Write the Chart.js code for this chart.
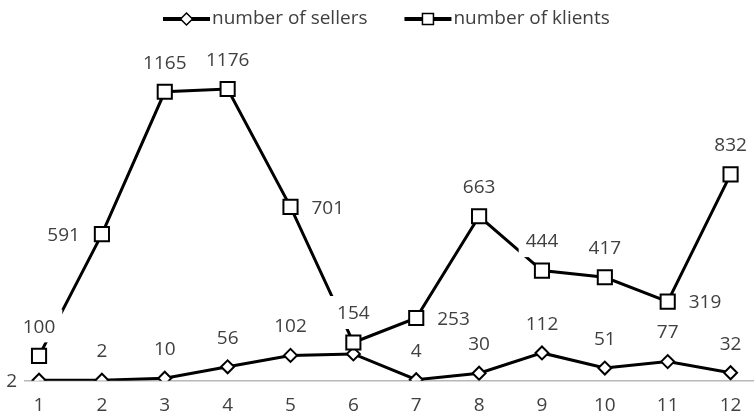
<!DOCTYPE html>
<html>
<head>
<meta charset="utf-8">
<script src="https://cdn.jsdelivr.net/npm/chart.js@4"></script>
<style>
  html, body { margin: 0; padding: 0; background: #fff; overflow: hidden; }
  #wrap { position: relative; width: 762px; height: 420px; }
</style>
</head>
<body>
<div id="wrap"><canvas id="marketChart" width="762" height="420"></canvas></div>
<script>
const months = ['1', '2', '3', '4', '5', '6', '7', '8', '9', '10', '11', '12'];
const sellers = [2, 2, 10, 56, 102, 108, 4, 30, 112, 51, 77, 32];
const klients = [100, 591, 1165, 1176, 701, 154, 253, 663, 444, 417, 319, 832];

// which side of the point each value label sits on (null = no label)
const sellerLabelSide = ['left', 'top', 'top', 'top', 'top', null, 'top', 'top', 'top', 'top', 'top', 'top'];
const klientLabelSide = ['top', 'left', 'top', 'top', 'right', 'top', 'right', 'top', 'top', 'top', 'right', 'top'];

const FONT = '19px "Open Sans"';
const TEXT = '#404040';

// value labels on white boxes, drawn over the lines
const valueLabels = {
  id: 'valueLabels',
  afterDatasetsDraw(chart) {
    const ctx = chart.ctx;
    ctx.save();
    ctx.font = FONT;
    const items = [];
    chart.data.datasets.forEach((ds, di) => {
      const meta = chart.getDatasetMeta(di);
      meta.data.forEach((pt, i) => {
        const side = ds.labelSide[i];
        if (!side) return;
        const text = String(ds.data[i]);
        const w = ctx.measureText(text).width;
        let cx = pt.x, cy = pt.y;
        if (side === 'top') cy -= 30;
        else if (side === 'left') cx -= 22 + w / 2;
        else cx += 21 + w / 2;
        items.push({ text, w, cx, cy });
      });
    });
    ctx.fillStyle = '#fff';
    items.forEach(it => ctx.fillRect(it.cx - it.w / 2 - 7, it.cy - 16.5, it.w + 14, 33));
    ctx.fillStyle = TEXT;
    ctx.textAlign = 'center';
    ctx.textBaseline = 'alphabetic';
    items.forEach(it => ctx.fillText(it.text, it.cx, it.cy + 6.8));
    ctx.restore();
  }
};

// legend: thick line with the marker in the middle, then the name
const lineLegend = {
  id: 'lineLegend',
  afterDraw(chart) {
    const ctx = chart.ctx;
    ctx.save();
    ctx.font = FONT;
    let x = 163;
    const y = 19;
    chart.data.datasets.forEach(ds => {
      ctx.strokeStyle = '#000';
      ctx.lineWidth = 4;
      ctx.beginPath();
      ctx.moveTo(x, y);
      ctx.lineTo(x + 47, y);
      ctx.stroke();

      const mx = x + 23.5;
      ctx.fillStyle = '#fff';
      ctx.lineWidth = 1.5;
      ctx.beginPath();
      if (ds.pointStyle === 'rectRot') {
        ctx.moveTo(mx - 6, y);
        ctx.lineTo(mx, y - 6);
        ctx.lineTo(mx + 6, y);
        ctx.lineTo(mx, y + 6);
        ctx.closePath();
      } else {
        ctx.rect(mx - 5.5, y - 5.5, 11, 11);
      }
      ctx.fill();
      ctx.stroke();

      ctx.fillStyle = TEXT;
      ctx.textAlign = 'left';
      ctx.textBaseline = 'alphabetic';
      ctx.fillText(ds.label, x + 49, y + 5);
      x += 49 + ctx.measureText(ds.label).width + 37;
    });
    ctx.restore();
  }
};

function render() {
  const ctx = document.getElementById('marketChart').getContext('2d');
  new Chart(ctx, {
    type: 'line',
    data: {
      labels: months,
      datasets: [
        {
          label: 'number of sellers',
          data: sellers,
          labelSide: sellerLabelSide,
          borderColor: '#000',
          borderWidth: 3,
          pointStyle: 'rectRot',
          pointRadius: 6.5,
          pointBorderWidth: 2,
          pointBorderColor: '#000',
          pointBackgroundColor: '#fff',
          tension: 0,
          order: 1
        },
        {
          label: 'number of klients',
          data: klients,
          labelSide: klientLabelSide,
          borderColor: '#000',
          borderWidth: 3,
          pointStyle: 'rect',
          pointRadius: 10,
          pointBorderWidth: 2,
          pointBorderColor: '#000',
          pointBackgroundColor: '#fff',
          tension: 0,
          order: 0
        }
      ]
    },
    options: {
      responsive: false,
      animation: false,
      layout: { autoPadding: false, padding: { top: 33.5, left: 7.6, right: 0, bottom: 0 } },
      plugins: {
        legend: { display: false },
        tooltip: { enabled: false }
      },
      scales: {
        x: {
          offset: true,
          grid: { display: false, drawTicks: false },
          border: { display: true, color: '#b8b8b8', width: 1.5 },
          ticks: { color: TEXT, font: { family: 'Open Sans', size: 19 }, padding: 13, maxRotation: 0 },
          afterFit(scale) {
            scale.height = 39.3;
            // plot area runs edge to edge; the category offset already clears the labels
            scale.paddingLeft = 0;
            scale.paddingRight = 0;
          }
        },
        y: {
          display: false,
          min: 0,
          max: 1400
        }
      }
    },
    plugins: [valueLabels, lineLegend]
  });
}

document.fonts.load(FONT).then(render, render);
</script>
</body>
</html>
